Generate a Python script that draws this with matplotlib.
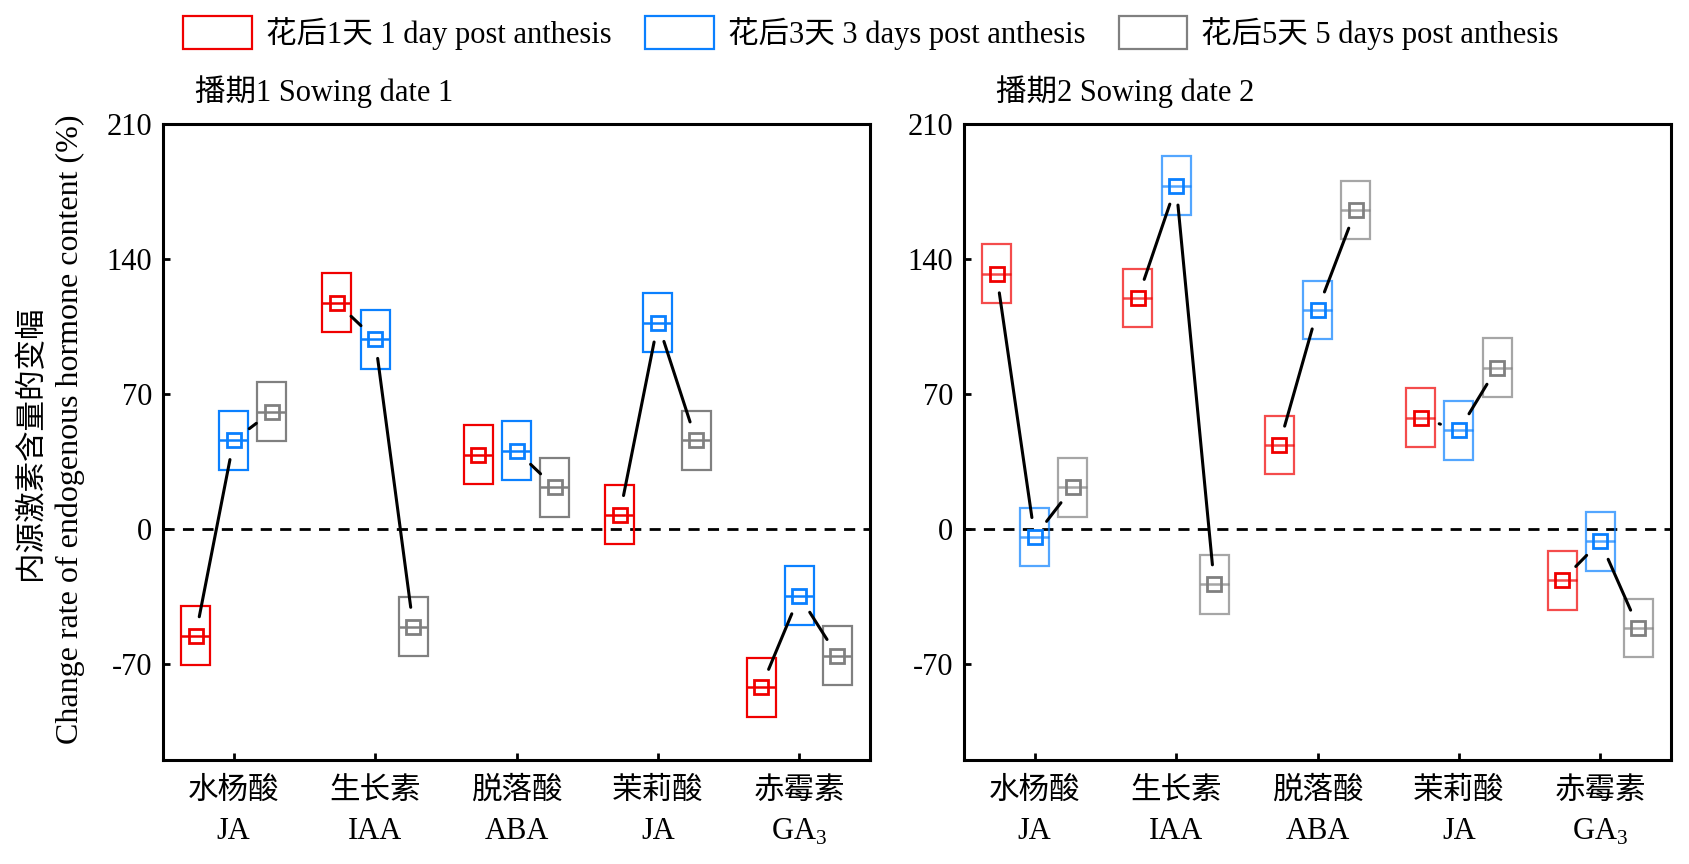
import matplotlib
matplotlib.use('Agg')
import matplotlib.pyplot as plt
import numpy as np

plt.rcParams['font.family'] = ['Liberation Serif', 'Noto Sans CJK SC']
plt.rcParams['mathtext.fontset'] = 'custom'
plt.rcParams['mathtext.rm'] = 'Liberation Serif'
plt.rcParams['axes.unicode_minus'] = False

# 数据
categories = ['水杨酸\nJA', '生长素\nIAA', '脱落酸\nABA', '茉莉酸\nJA', '赤霉素\nGA$_3$']
series_names = ['花后1天 1 day post anthesis', '花后3天 3 days post anthesis', '花后5天 5 days post anthesis']
panel_titles = ['播期1 Sowing date 1', '播期2 Sowing date 2']

# 播期1
s1_day1 = [-55.6, 117.2, 38.5, 7.3, -82.3]
s1_day3 = [45.8, 98.4, 40.4, 106.8, -34.8]
s1_day5 = [60.8, -50.8, 21.5, 45.8, -66.0]
# 播期2
s2_day1 = [132.4, 119.8, 43.5, 57.7, -26.8]
s2_day3 = [-4.2, 178.0, 113.4, 51.0, -6.6]
s2_day5 = [21.5, -28.8, 165.4, 83.6, -51.5]
# 箱体半高
s1_spread = [15.3, 15.3, 15.3]
s2_spread = [15.2, 15.2, 15.2]

colors = ['#f00000', '#0a80ff', '#808080']
offsets = [-0.27, 0, 0.27]
box_w = 0.206
fs = 22


def link(ax, x1, y1, x2, y2, gap=19.5):
    # 连接线两端留空
    t = ax.transData
    p1 = t.transform((x1, y1))
    p2 = t.transform((x2, y2))
    d = p2 - p1
    L = np.hypot(d[0], d[1])
    if L <= 2 * gap:
        a = b = (p1 + p2) / 2
    else:
        u = d / L
        a = p1 + u * gap
        b = p2 - u * gap
    q = t.inverted().transform(np.array([a, b]))
    ax.plot(q[:, 0], q[:, 1], color='k', lw=2.2, solid_capstyle='round', zorder=4)


def panel(ax, data, spreads, title, box_alpha):
    x = np.arange(1, len(categories) + 1)
    ax.set_xlim(0.5, 5.5)
    ax.set_ylim(-120, 210)
    ax.axhline(0, color='k', lw=2, ls=(0, (4, 3)), zorder=1)
    handles = []
    for i, vals in enumerate(data):
        vals = np.array(vals)
        xs = x + offsets[i]
        h = ax.bar(xs, 2 * spreads[i], bottom=vals - spreads[i], width=box_w,
                   fill=False, edgecolor=colors[i], lw=1.6, alpha=box_alpha, zorder=3)
        ax.hlines(vals, xs - box_w / 2, xs + box_w / 2, color=colors[i], lw=1.8,
                  alpha=box_alpha, zorder=3)
        ax.plot(xs, vals, 's', ms=10, mfc='none', mec=colors[i], mew=2, zorder=5)
        handles.append(h)
    for j in range(len(x)):
        for i in range(len(data) - 1):
            link(ax, x[j] + offsets[i], data[i][j], x[j] + offsets[i + 1], data[i + 1][j])
    ax.set_xticks(x)
    ax.set_xticklabels(categories, fontsize=fs, linespacing=1.5)
    ax.set_yticks([-70, 0, 70, 140, 210])
    ax.set_yticklabels(['-70', '0', '70', '140', '210'], fontsize=fs)
    ax.tick_params(direction='in', length=5, width=2)
    ax.tick_params(axis='x', pad=12)
    ax.tick_params(axis='y', pad=8)
    for sp in ax.spines.values():
        sp.set_linewidth(2.2)
    ax.text(0.045, 1.025, title, transform=ax.transAxes, fontsize=fs, ha='left', va='bottom')
    return handles


fig = plt.figure(figsize=(16.89, 8.64), dpi=100)
ax1 = fig.add_axes([163 / 1689, 1 - 760 / 864, 707 / 1689, 636 / 864])
ax2 = fig.add_axes([964 / 1689, 1 - 760 / 864, 707 / 1689, 636 / 864])

hs = panel(ax1, [s1_day1, s1_day3, s1_day5], s1_spread, panel_titles[0], 1.0)
panel(ax2, [s2_day1, s2_day3, s2_day5], s2_spread, panel_titles[1], 0.7)

# y轴标题（两行）
fig.text(32 / 1689, 1 - 443 / 864, '内源激素含量的变幅', rotation=90, fontsize=fs,
         ha='center', va='center')
fig.text(70 / 1689, 1 - 429 / 864, 'Change rate of endogenous hormone content (%)',
         rotation=90, fontsize=23, ha='center', va='center')

fig.legend(hs, series_names, loc='center', bbox_to_anchor=(871 / 1689, 1 - 33 / 864), ncol=3,
           frameon=False, fontsize=fs, handlelength=2.25, handleheight=1.25,
           columnspacing=1.1, handletextpad=0.45)

fig.savefig('out.png', dpi=100)
